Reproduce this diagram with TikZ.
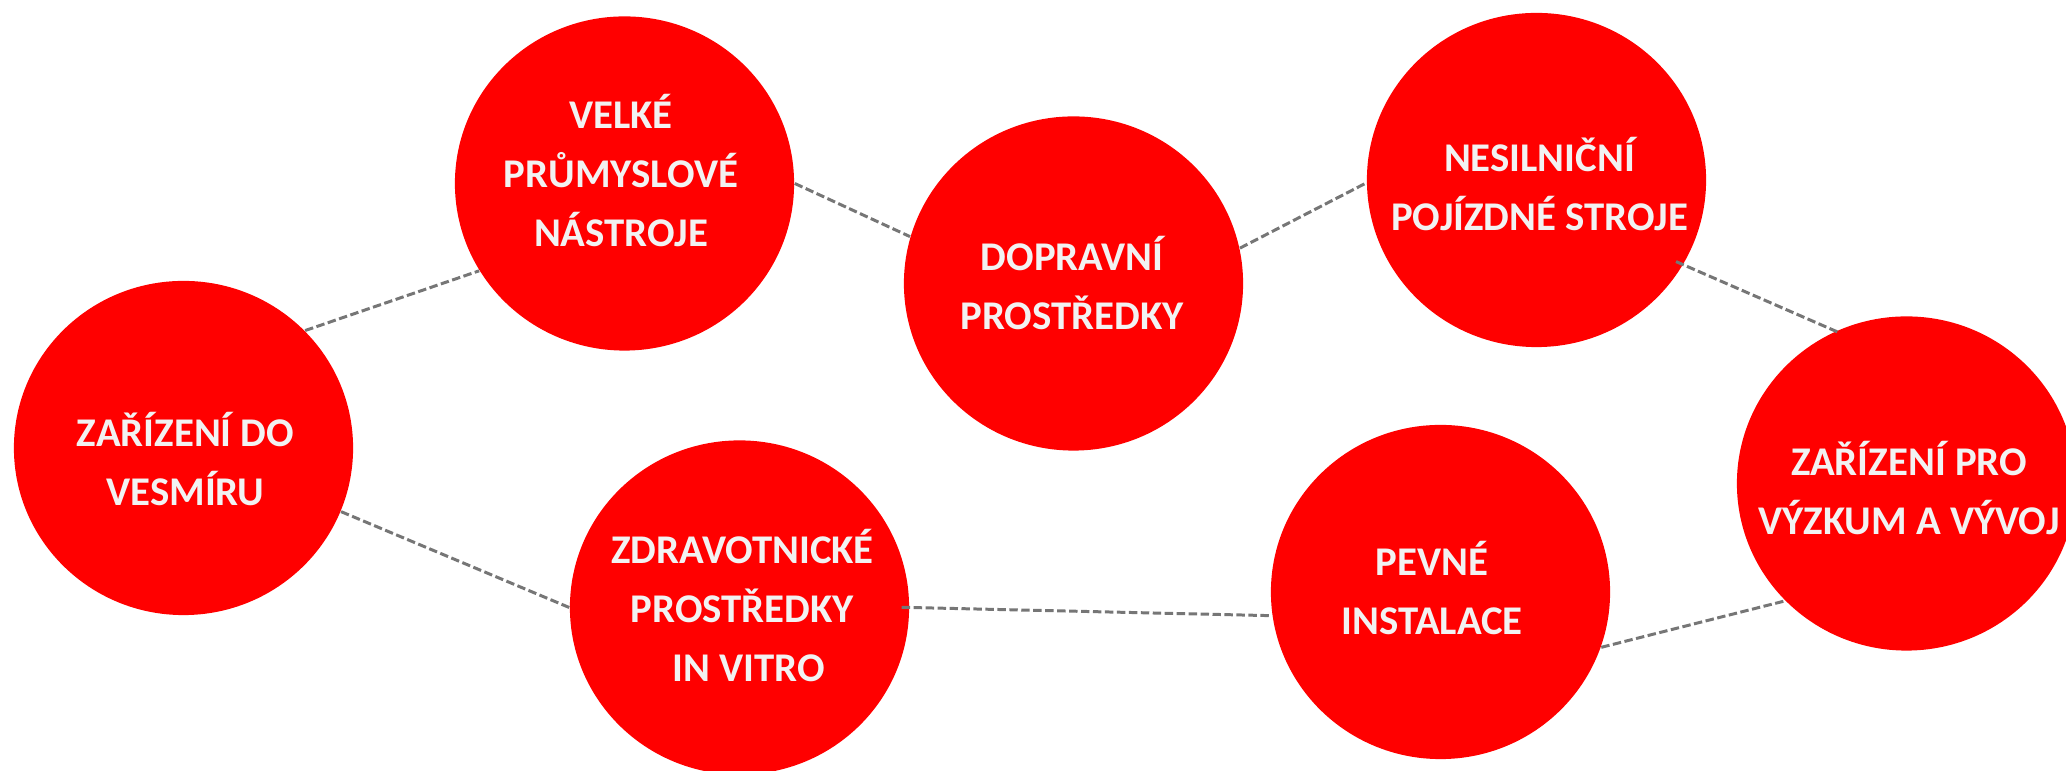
\documentclass[tikz,border=0pt]{standalone}
\usepackage{fontspec}
\newfontfamily\carlito{Carlito}
\usetikzlibrary{shapes.geometric}
\definecolor{bubblered}{RGB}{255,0,0}
\definecolor{bubbletext}{RGB}{242,242,242}
\definecolor{linkgray}{RGB}{118,118,118}
\tikzset{
  bubble/.style={ellipse, fill=bubblered, draw=none, inner sep=0pt,
    minimum width=3.39cm, minimum height=3.34cm},
  bubblelabel/.style={anchor=north, inner sep=0pt, yshift=13pt, align=center,
    text=bubbletext, font=\carlito\bfseries\fontsize{11.6pt}{16.7pt}\selectfont},
  link/.style={draw=linkgray, line width=0.85pt, dash pattern=on 2.4pt off 1pt}
}
\newcommand{\topstrut}{\rule{0pt}{13pt}}
\begin{document}
\begin{tikzpicture}[x=0.01cm, y=-0.01cm]
\useasboundingbox (0,0) rectangle (2066,771);
\clip (0,0) rectangle (2066,771);
\node[bubble] (c1) at (183.5,448) {};
\node[bubble] (c2) at (624.5,183.5) {};
\node[bubble] (c3) at (1073.5,283.5) {};
\node[bubble] (c4) at (1536.5,180) {};
\node[bubble] (c5) at (1906.5,483.5) {};
\node[bubble] (c6) at (739.5,607.5) {};
\node[bubble] (c7) at (1440.5,592) {};

\node[bubblelabel] (t1) at (185.5,446) {\topstrut ZAŘÍZENÍ DO\\VESMÍRU};
\node[bubblelabel] (t2) at (621,128.3) {\topstrut VELKÉ\\PRŮMYSLOVÉ\\NÁSTROJE};
\node[bubblelabel] (t3) at (1072,270) {\topstrut DOPRAVNÍ\\PROSTŘEDKY};
\node[bubblelabel] (t4) at (1539.5,170.7) {\topstrut NESILNIČNÍ\\POJÍZDNÉ STROJE};
\node[bubblelabel] (t5) at (1909,475) {\topstrut ZAŘÍZENÍ PRO\\VÝZKUM A VÝVOJ};
\node[bubblelabel] (t6) at (742.5,563) {\topstrut ZDRAVOTNICKÉ\\PROSTŘEDKY\\\hspace*{0.29em}IN VITRO};
\node[bubblelabel] (t7) at (1432,575) {\topstrut PEVNÉ\\INSTALACE};

\draw[link] (c1.44) -- (c2.-149);
\draw[link] (c2.0) -- (c3.164.5);
\draw[link] (c3.12) -- (c4.-179);
\draw[link, shorten <=-2.3pt, shorten >=-1.4pt] (c4.-30) -- (c5.115);
\draw[link] (c1.-22) -- (c6.180);
\draw[link, shorten <=-2.3pt] (c6.0) -- (c7.-172);
\draw[link] (c7.-19) -- (c5.224);
\end{tikzpicture}
\end{document}
